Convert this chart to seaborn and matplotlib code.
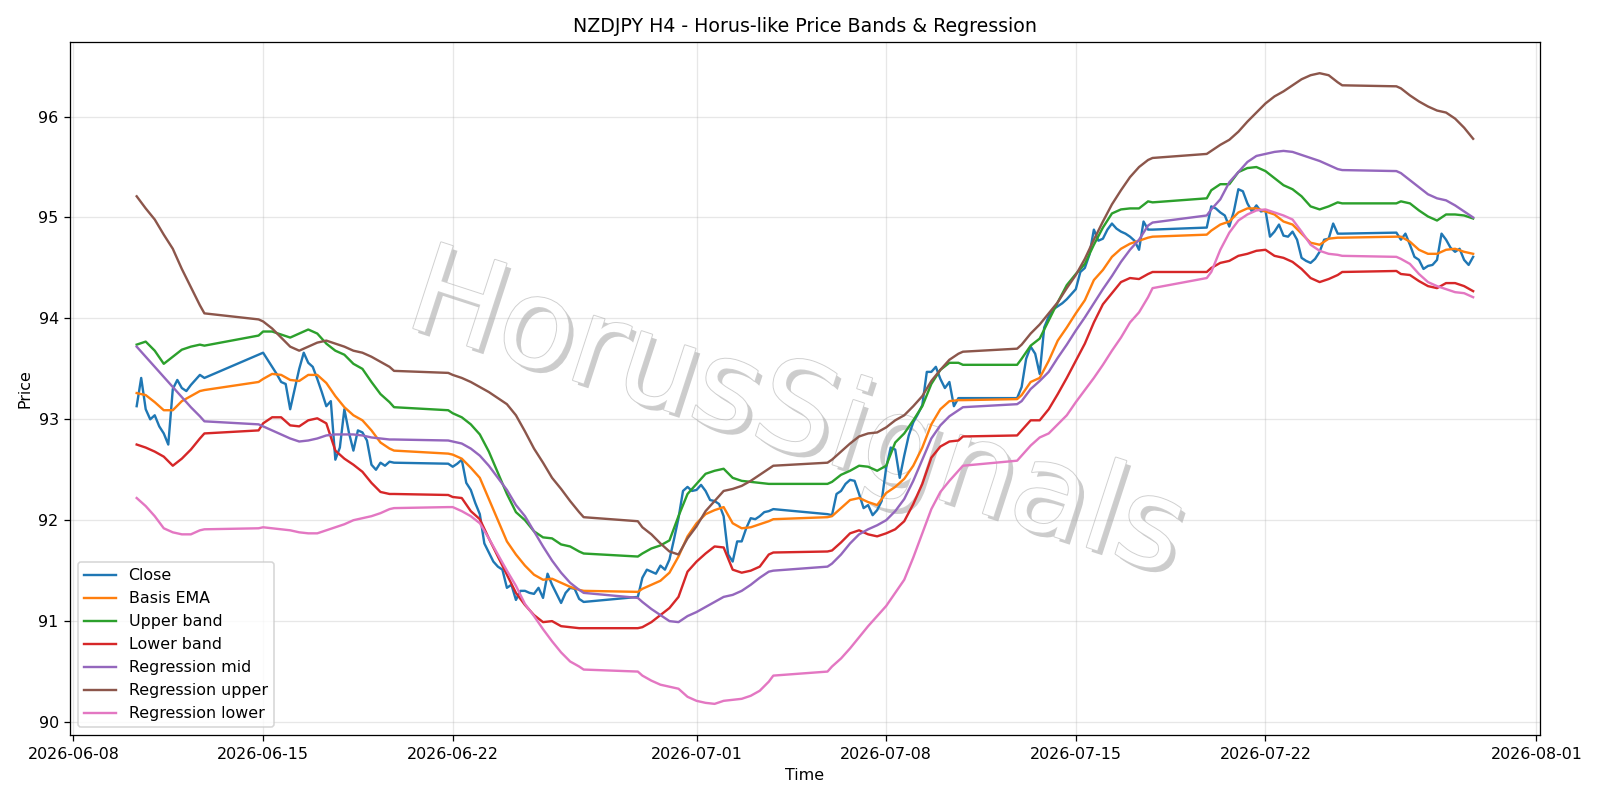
import numpy as np
import pandas as pd
import matplotlib
matplotlib.use("Agg")
import matplotlib.pyplot as plt
import matplotlib.patheffects as pe
import seaborn as sns

# ---------------- data ----------------
# 4h bars: Mon-Fri all bars plus the Sunday 20:00 opening bar
bar_times = pd.date_range("2026-06-10 08:00", "2026-07-29 16:00", freq="4h")
bar_times = bar_times[(bar_times.dayofweek < 5) | ((bar_times.dayofweek == 6) & (bar_times.hour == 20))]
# indicator samples every 8h (00, 08, 16) plus Sunday/Friday 20:00
smooth_times = bar_times[(bar_times.hour % 8 == 0) |
                         ((bar_times.hour == 20) & (bar_times.dayofweek.isin([4, 6])))]

close_vals = [
    93.13, 93.41, 93.10, 93.00, 93.04, 92.93, 92.86, 92.75, 93.30, 93.39, 93.31, 93.28, 93.34, 93.39, 93.44, 93.41,
    93.64, 93.66, 93.59, 93.52, 93.45, 93.37, 93.35, 93.10, 93.30, 93.50, 93.66, 93.56, 93.52, 93.40, 93.27, 93.13,
    93.18, 92.60, 92.72, 93.10, 92.87, 92.69, 92.89, 92.87, 92.79, 92.55, 92.50, 92.57, 92.54, 92.58, 92.57,
    92.56, 92.53, 92.56, 92.60, 92.37, 92.30, 92.17, 92.06, 91.77, 91.68, 91.59, 91.54, 91.51, 91.33, 91.36, 91.21,
    91.30, 91.30, 91.28, 91.27, 91.33, 91.23, 91.47, 91.36, 91.27, 91.18, 91.28, 91.33, 91.32, 91.22, 91.19,
    91.24, 91.43, 91.51, 91.49, 91.47, 91.55, 91.51, 91.61, 91.81, 92.02, 92.29, 92.33, 92.29, 92.30, 92.35, 92.29,
    92.20, 92.19, 92.16, 92.04, 91.66, 91.59, 91.79, 91.79, 91.92, 92.02, 92.01, 92.04, 92.08, 92.09, 92.11,
    92.06, 92.05, 92.26, 92.29, 92.36, 92.40, 92.39, 92.26, 92.12, 92.15, 92.05, 92.10, 92.19, 92.52, 92.72, 92.70,
    92.42, 92.64, 92.84, 92.97, 93.05, 93.14, 93.47, 93.47, 93.52, 93.40, 93.31, 93.37, 93.13, 93.21, 93.21,
    93.21, 93.32, 93.60, 93.72, 93.65, 93.45, 93.91, 94.02, 94.09, 94.12, 94.15, 94.19, 94.24, 94.29, 94.46, 94.50,
    94.63, 94.88, 94.77, 94.79, 94.88, 94.94, 94.89, 94.86, 94.84, 94.81, 94.77, 94.68, 94.96, 94.88, 94.88,
    94.90, 95.11, 95.09, 95.05, 95.02, 94.91, 95.06, 95.28, 95.26, 95.14, 95.06, 95.12, 95.06, 95.07, 94.81, 94.86,
    94.93, 94.82, 94.81, 94.86, 94.78, 94.60, 94.57, 94.55, 94.59, 94.66, 94.78, 94.79, 94.94, 94.84, 94.84,
    94.85, 94.78, 94.84, 94.73, 94.61, 94.58, 94.49, 94.52, 94.53, 94.58, 94.84, 94.78, 94.70, 94.66, 94.69, 94.58,
    94.53, 94.61,
]

ema_vals = [
    93.26, 93.24, 93.17, 93.09, 93.09, 93.18, 93.23, 93.28, 93.29,
    93.37, 93.40, 93.45, 93.44, 93.39, 93.38, 93.44, 93.44, 93.36, 93.23, 93.12, 93.04, 92.99, 92.89, 92.77, 92.71, 92.69,
    92.66, 92.65, 92.61, 92.52, 92.42, 92.21, 92.00, 91.79, 91.66, 91.55, 91.46, 91.41, 91.42, 91.38, 91.34, 91.31, 91.30,
    91.29, 91.32, 91.36, 91.40, 91.48, 91.64, 91.84, 91.97, 92.06, 92.10, 92.13, 91.97, 91.92, 91.93, 91.96, 91.99, 92.01,
    92.03, 92.04, 92.12, 92.20, 92.22, 92.18, 92.15, 92.27, 92.33, 92.41, 92.54, 92.72, 92.95, 93.10, 93.18, 93.19, 93.19,
    93.20, 93.24, 93.37, 93.41, 93.58, 93.78, 93.91, 94.05, 94.18, 94.38, 94.48, 94.61, 94.69, 94.74, 94.77, 94.80, 94.81,
    94.83, 94.87, 94.93, 94.96, 95.05, 95.09, 95.09, 95.06, 95.03, 94.96, 94.93, 94.84, 94.75, 94.73, 94.79, 94.80, 94.80,
    94.81, 94.81, 94.76, 94.68, 94.64, 94.64, 94.68, 94.69, 94.66, 94.64,
]

upper_vals = [
    93.74, 93.77, 93.68, 93.55, 93.62, 93.69, 93.72, 93.74, 93.73,
    93.83, 93.87, 93.87, 93.84, 93.81, 93.85, 93.89, 93.85, 93.75, 93.68, 93.64, 93.55, 93.50, 93.37, 93.25, 93.17, 93.12,
    93.09, 93.06, 93.02, 92.95, 92.85, 92.68, 92.47, 92.26, 92.08, 92.00, 91.89, 91.83, 91.82, 91.76, 91.74, 91.69, 91.67,
    91.64, 91.67, 91.72, 91.75, 91.80, 92.04, 92.26, 92.36, 92.46, 92.49, 92.51, 92.42, 92.39, 92.38, 92.37, 92.36, 92.36,
    92.36, 92.38, 92.45, 92.49, 92.54, 92.53, 92.49, 92.54, 92.77, 92.86, 92.99, 93.13, 93.35, 93.49, 93.56, 93.56, 93.54,
    93.54, 93.60, 93.73, 93.80, 93.98, 94.16, 94.33, 94.44, 94.54, 94.73, 94.90, 95.04, 95.08, 95.09, 95.09, 95.16, 95.15,
    95.19, 95.27, 95.33, 95.33, 95.45, 95.49, 95.50, 95.46, 95.39, 95.32, 95.28, 95.21, 95.11, 95.08, 95.11, 95.15, 95.14,
    95.14, 95.16, 95.14, 95.07, 95.01, 94.97, 95.03, 95.03, 95.02, 94.99,
]

lower_vals = [
    92.75, 92.72, 92.68, 92.63, 92.54, 92.61, 92.70, 92.81, 92.86,
    92.89, 92.96, 93.02, 93.02, 92.94, 92.93, 92.99, 93.01, 92.96, 92.69, 92.61, 92.55, 92.48, 92.37, 92.28, 92.26, 92.26,
    92.25, 92.23, 92.22, 92.09, 92.01, 91.82, 91.64, 91.46, 91.28, 91.16, 91.06, 90.99, 91.00, 90.95, 90.94, 90.93, 90.93,
    90.93, 90.94, 90.99, 91.06, 91.13, 91.24, 91.49, 91.59, 91.67, 91.74, 91.73, 91.51, 91.48, 91.50, 91.54, 91.66, 91.68,
    91.69, 91.70, 91.78, 91.87, 91.90, 91.86, 91.84, 91.87, 91.91, 91.99, 92.16, 92.36, 92.62, 92.73, 92.78, 92.79, 92.83,
    92.84, 92.89, 92.99, 92.99, 93.10, 93.25, 93.41, 93.58, 93.75, 93.96, 94.14, 94.25, 94.36, 94.40, 94.39, 94.44, 94.46,
    94.46, 94.50, 94.55, 94.57, 94.62, 94.64, 94.67, 94.68, 94.62, 94.60, 94.56, 94.49, 94.40, 94.36, 94.39, 94.43, 94.46,
    94.47, 94.44, 94.43, 94.37, 94.32, 94.30, 94.35, 94.35, 94.32, 94.27,
]

reg_mid_vals = [
    93.72, 93.62, 93.52, 93.42, 93.32, 93.22, 93.12, 93.03, 92.98,
    92.95, 92.93, 92.89, 92.85, 92.81, 92.78, 92.79, 92.81, 92.84, 92.85, 92.85, 92.85, 92.84, 92.82, 92.81, 92.80, 92.80,
    92.79, 92.78, 92.76, 92.71, 92.64, 92.54, 92.42, 92.30, 92.15, 92.04, 91.89, 91.74, 91.60, 91.48, 91.38, 91.31, 91.28,
    91.23, 91.19, 91.12, 91.06, 91.00, 90.99, 91.05, 91.09, 91.14, 91.19, 91.24, 91.26, 91.30, 91.36, 91.43, 91.49, 91.50,
    91.54, 91.57, 91.66, 91.77, 91.86, 91.91, 91.95, 92.00, 92.09, 92.21, 92.39, 92.60, 92.81, 92.94, 93.03, 93.09, 93.12,
    93.15, 93.18, 93.30, 93.38, 93.47, 93.61, 93.74, 93.88, 94.01, 94.15, 94.29, 94.42, 94.56, 94.68, 94.78, 94.92, 94.95,
    95.02, 95.08, 95.18, 95.35, 95.45, 95.55, 95.61, 95.63, 95.65, 95.66, 95.65, 95.62, 95.59, 95.56, 95.52, 95.48, 95.47,
    95.46, 95.44, 95.37, 95.30, 95.23, 95.19, 95.17, 95.12, 95.06, 95.00,
]

reg_upper_vals = [
    95.21, 95.09, 94.98, 94.83, 94.69, 94.49, 94.31, 94.13, 94.05,
    93.99, 93.97, 93.90, 93.81, 93.72, 93.68, 93.72, 93.76, 93.78, 93.75, 93.72, 93.68, 93.66, 93.62, 93.57, 93.52, 93.48,
    93.46, 93.44, 93.41, 93.37, 93.32, 93.27, 93.21, 93.15, 93.04, 92.88, 92.71, 92.57, 92.42, 92.31, 92.19, 92.08, 92.03,
    91.99, 91.93, 91.86, 91.77, 91.69, 91.66, 91.82, 91.94, 92.09, 92.19, 92.29, 92.31, 92.34, 92.39, 92.45, 92.51, 92.54,
    92.57, 92.60, 92.68, 92.76, 92.83, 92.86, 92.87, 92.92, 92.99, 93.04, 93.13, 93.23, 93.38, 93.49, 93.59, 93.65, 93.67,
    93.70, 93.74, 93.85, 93.94, 94.05, 94.16, 94.30, 94.43, 94.59, 94.78, 94.96, 95.13, 95.27, 95.40, 95.50, 95.57, 95.59,
    95.63, 95.66, 95.72, 95.77, 95.85, 95.95, 96.04, 96.13, 96.20, 96.25, 96.31, 96.37, 96.41, 96.43, 96.41, 96.34, 96.31,
    96.30, 96.28, 96.21, 96.15, 96.10, 96.06, 96.04, 95.98, 95.89, 95.78,
]

reg_lower_vals = [
    92.22, 92.14, 92.04, 91.92, 91.88, 91.86, 91.86, 91.90, 91.91,
    91.92, 91.93, 91.92, 91.91, 91.90, 91.88, 91.87, 91.87, 91.90, 91.93, 91.96, 92.00, 92.02, 92.04, 92.07, 92.11, 92.12,
    92.13, 92.13, 92.09, 92.04, 91.97, 91.82, 91.66, 91.50, 91.35, 91.17, 91.05, 90.92, 90.80, 90.69, 90.60, 90.55, 90.52,
    90.50, 90.46, 90.41, 90.37, 90.35, 90.33, 90.25, 90.21, 90.19, 90.18, 90.21, 90.22, 90.23, 90.26, 90.31, 90.40, 90.46,
    90.50, 90.55, 90.63, 90.73, 90.84, 90.95, 91.05, 91.15, 91.28, 91.41, 91.63, 91.87, 92.11, 92.28, 92.39, 92.49, 92.54,
    92.59, 92.64, 92.74, 92.82, 92.86, 92.95, 93.04, 93.17, 93.29, 93.41, 93.54, 93.68, 93.81, 93.96, 94.06, 94.21, 94.30,
    94.40, 94.46, 94.68, 94.85, 94.97, 95.03, 95.07, 95.08, 95.05, 95.02, 94.98, 94.86, 94.73, 94.67, 94.64, 94.63, 94.62,
    94.61, 94.59, 94.54, 94.44, 94.36, 94.32, 94.29, 94.26, 94.25, 94.21,
]

series_names = ["Close", "Basis EMA", "Upper band", "Lower band",
                "Regression mid", "Regression upper", "Regression lower"]
series_colors = ["#1f77b4", "#ff7f0e", "#2ca02c", "#d62728", "#9467bd", "#8c564b", "#e377c2"]

# ---------------- plot ----------------
DPI = 800 / 7.0
fig, ax = plt.subplots(figsize=(14, 7), dpi=DPI)

def frame(times, vals):
    n = min(len(times), len(vals))
    return pd.DataFrame({"t": times[:n], "v": vals[:n]})

data_sets = [
    (bar_times, close_vals),
    (smooth_times, ema_vals),
    (smooth_times, upper_vals),
    (smooth_times, lower_vals),
    (smooth_times, reg_mid_vals),
    (smooth_times, reg_upper_vals),
    (smooth_times, reg_lower_vals),
]

for (times, vals), name, col in zip(data_sets, series_names, series_colors):
    df = frame(times, vals)
    sns.lineplot(data=df, x="t", y="v", ax=ax, label=name, color=col,
                 linewidth=1.5, zorder=2)

ax.text(0.494, 0.46, "HorusSignals", transform=ax.transAxes, fontsize=78,
        color="white", rotation=-18, ha="center", va="center", zorder=1,
        path_effects=[pe.withSimplePatchShadow(offset=(3, -3), shadow_rgbFace="black", alpha=0.2),
                      pe.withStroke(linewidth=1.2, foreground="#d0d0d0")])

ax.set_title("NZDJPY H4 - Horus-like Price Bands & Regression")
ax.set_xlabel("Time")
ax.set_ylabel("Price")
ax.grid(True, alpha=0.3)
ax.legend(loc="lower left")
fig.tight_layout()
fig.savefig("out.png", dpi=DPI)
